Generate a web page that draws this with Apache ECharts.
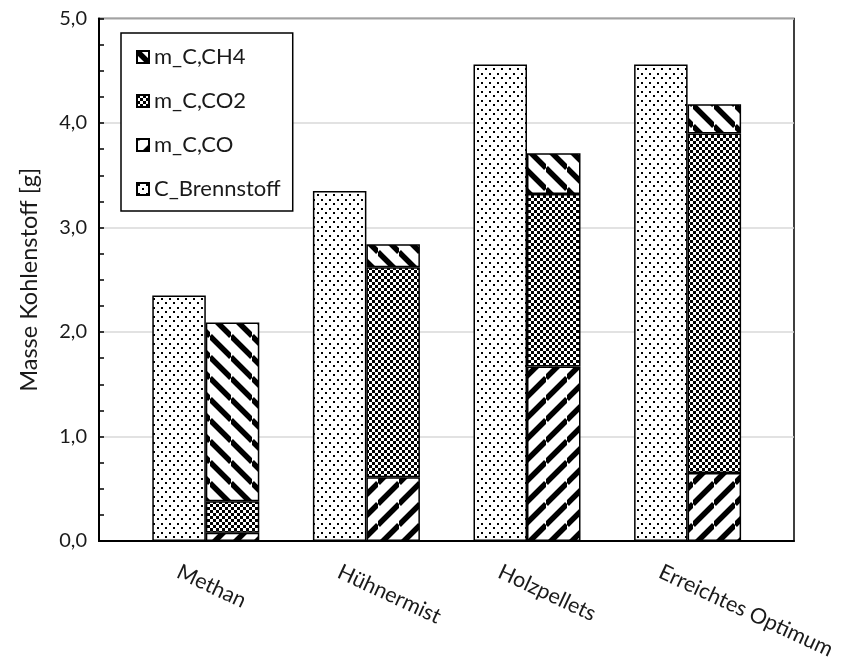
<!DOCTYPE html>
<html>
<head>
<meta charset="utf-8">
<script src="https://cdn.jsdelivr.net/npm/echarts@6/dist/echarts.min.js"></script>
<style>
  html, body { margin: 0; padding: 0; background: #fff; }
  #chart { width: 841px; height: 662px; }
</style>
</head>
<body>
<div id="chart"></div>
<script>
// Kohlenstoffbilanz je Brennstoff
const categories = ['Methan', 'Hühnermist', 'Holzpellets', 'Erreichtes Optimum'];
const cBrennstoff = [2.35, 3.35, 4.56, 4.56];
const mCCO = [0.08, 0.61, 1.67, 0.65];
const mCCO2 = [0.30, 2.01, 1.65, 3.25];
const mCCH4 = [1.71, 0.22, 0.39, 0.28];
const legendOrder = ['m_C,CH4', 'm_C,CO2', 'm_C,CO', 'C_Brennstoff'];

// Schwarz-weiß Füllmuster (Punkte, Schachbrett, Schraffuren)
function pattern(kind) {
  const c = document.createElement('canvas');
  let ctx;
  if (kind === 'dots') {
    c.width = 8; c.height = 9;
    ctx = c.getContext('2d');
    ctx.fillStyle = '#fff'; ctx.fillRect(0, 0, 8, 9);
    ctx.fillStyle = '#000';
    ctx.fillRect(1, 1, 2, 2);
    ctx.fillRect(5, 5, 2, 2);
  } else if (kind === 'checker') {
    c.width = 6; c.height = 6;
    ctx = c.getContext('2d');
    ctx.fillStyle = '#fff'; ctx.fillRect(0, 0, 6, 6);
    ctx.fillStyle = '#000';
    ctx.fillRect(0, 0, 3, 3);
    ctx.fillRect(3, 3, 3, 3);
  } else {
    const P = 21;
    c.width = P; c.height = P;
    ctx = c.getContext('2d');
    ctx.fillStyle = '#fff'; ctx.fillRect(0, 0, P, P);
    ctx.strokeStyle = '#000';
    ctx.lineWidth = 5.5;
    ctx.beginPath();
    for (let k = -1; k <= 1; k++) {
      if (kind === 'up') {
        ctx.moveTo(0, P + k * P); ctx.lineTo(P, k * P);
      } else {
        ctx.moveTo(0, k * P); ctx.lineTo(P, P + k * P);
      }
    }
    ctx.stroke();
  }
  return { image: c, repeat: 'repeat' };
}

const font = 'Lato, "Noto Sans", sans-serif';
const textColor = '#1a1a1a';
const barStyle = (fill) => ({ color: fill, borderColor: '#000', borderWidth: 1.5 });

const chart = echarts.init(document.getElementById('chart'), null, { renderer: 'canvas' });

chart.setOption({
  backgroundColor: '#fff',
  animation: false,
  textStyle: { fontFamily: font },
  legend: {
    data: legendOrder,
    orient: 'vertical',
    left: 121, top: 33,
    padding: [12, 12, 10, 15],
    itemWidth: 12, itemHeight: 12, itemGap: 20,
    icon: 'rect',
    backgroundColor: '#fff',
    borderColor: '#000', borderWidth: 1.5,
    textStyle: { fontFamily: font, fontSize: 22, lineHeight: 24, color: textColor }
  },
  grid: [
    // Rahmen mit Werteachse
    { left: 99, right: 47, top: 18.5, bottom: 121, show: true, borderColor: '#000', borderWidth: 1.5, containLabel: false },
    // Balken
    { left: 125.5, right: 73.1, top: 18.5, bottom: 121 },
    // Kategoriebeschriftung
    { left: 98, right: 100.6, top: 18.5, bottom: 121 }
  ],
  xAxis: [
    { gridIndex: 0, type: 'value', min: 0, max: 1, show: true,
      axisLine: { show: true, lineStyle: { color: '#000', width: 2 } },
      axisTick: { show: false }, axisLabel: { show: false }, splitLine: { show: false } },
    { gridIndex: 1, type: 'category', data: categories,
      axisLine: { show: false }, axisTick: { show: false }, axisLabel: { show: false } },
    { gridIndex: 2, type: 'category', data: categories,
      axisLine: { show: false }, axisTick: { show: false },
      axisLabel: { show: true, rotate: -25, margin: 46, fontSize: 21.5, color: textColor, fontFamily: font, interval: 0 } }
  ],
  yAxis: [
    { gridIndex: 0, type: 'value', min: 0, max: 5, interval: 1,
      name: 'Masse Kohlenstoff [g]', nameLocation: 'middle', nameGap: 58,
      nameTextStyle: { fontSize: 23.5, color: textColor, fontFamily: font },
      axisLine: { show: true, lineStyle: { color: '#000', width: 2 } },
      axisTick: { show: true, inside: true, length: 5, lineStyle: { color: '#000', width: 1.5 } },
      minorTick: { show: true, splitNumber: 4, length: 5, lineStyle: { color: '#000', width: 1.5 } },
      axisLabel: { margin: 12, fontSize: 20, color: textColor, fontFamily: font,
        formatter: (v) => v.toFixed(1).replace('.', ',') },
      splitLine: { show: true, lineStyle: { color: '#d9d9d9', width: 1.5 } } },
    { gridIndex: 1, type: 'value', min: 0, max: 5, interval: 1, show: false },
    { gridIndex: 2, type: 'value', min: 0, max: 5, interval: 1, show: false }
  ],
  series: [
    { name: 'C_Brennstoff', type: 'bar', xAxisIndex: 1, yAxisIndex: 1, data: cBrennstoff,
      barWidth: 53.5, barGap: '0%', itemStyle: barStyle(pattern('dots')) },
    { name: 'm_C,CO', type: 'bar', stack: 'm', xAxisIndex: 1, yAxisIndex: 1, data: mCCO,
      barWidth: 53.5, barGap: '0%', itemStyle: barStyle(pattern('up')) },
    { name: 'm_C,CO2', type: 'bar', stack: 'm', xAxisIndex: 1, yAxisIndex: 1, data: mCCO2,
      barWidth: 53.5, barGap: '0%', itemStyle: barStyle(pattern('checker')) },
    { name: 'm_C,CH4', type: 'bar', stack: 'm', xAxisIndex: 1, yAxisIndex: 1, data: mCCH4,
      barWidth: 53.5, barGap: '0%', itemStyle: barStyle(pattern('down')) }
  ]
});
</script>
</body>
</html>
